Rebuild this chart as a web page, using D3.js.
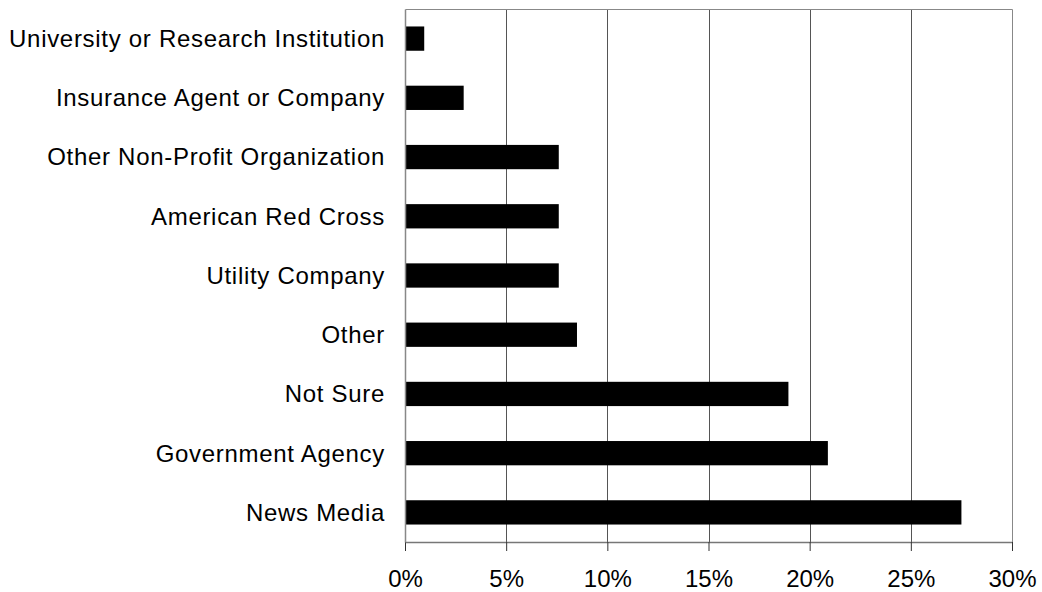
<!DOCTYPE html>
<html>
<head>
<meta charset="utf-8">
<script src="https://cdn.jsdelivr.net/npm/d3@7"></script>
<style>
  body { margin: 0; background: #fff; }
  svg { display: block; font-family: Arial, "Liberation Sans", sans-serif; }
</style>
</head>
<body>
<svg width="1042" height="592"></svg>
<script>
// data
const categories = [
  "University or Research Institution",
  "Insurance Agent or Company",
  "Other Non-Profit Organization",
  "American Red Cross",
  "Utility Company",
  "Other",
  "Not Sure",
  "Government Agency",
  "News Media"
];
const values = [0.95, 2.9, 7.6, 7.6, 7.6, 8.5, 18.95, 20.9, 27.5];
const ticks = [0, 5, 10, 15, 20, 25, 30];

const svg = d3.select("svg");
const margin = {top: 9, right: 30, bottom: 50, left: 405};
const width = 1012 - margin.left;
const height = 542 - margin.top;

const x = d3.scaleLinear().domain([0, 30]).range([0, width]);
const y = d3.scaleBand().domain(categories).range([0, height]).paddingInner(0.59).paddingOuter(0.295);

const g = svg.append("g")
  .attr("transform", "translate(" + margin.left + "," + margin.top + ")");

// gridlines
g.selectAll(".grid")
  .data(ticks.slice(1, -1))
  .enter().append("line")
    .attr("x1", d => Math.round(x(d)) + 0.5)
    .attr("x2", d => Math.round(x(d)) + 0.5)
    .attr("y1", 0)
    .attr("y2", height)
    .attr("stroke", "#555")
    .attr("stroke-width", 1);

// plot border (top, right)
g.append("path")
  .attr("d", "M0.5,0.5H" + (Math.round(width) + 0.5) + "V" + height)
  .attr("fill", "none")
  .attr("stroke", "#888");

// bars
g.selectAll(".bar")
  .data(values)
  .enter().append("rect")
    .attr("x", 0)
    .attr("y", (d, i) => y(categories[i]))
    .attr("width", d => x(d))
    .attr("height", y.bandwidth())
    .attr("fill", "#000");

// x axis
const xAxis = g.append("g")
  .attr("transform", "translate(0," + height + ")")
  .call(d3.axisBottom(x).tickValues(ticks).tickFormat(d => d + "%").tickSize(9).tickSizeOuter(0));
xAxis.select(".domain").attr("stroke", "#777").attr("stroke-width", 1.5);
xAxis.selectAll(".tick line").attr("stroke", "#333");
xAxis.selectAll(".tick text")
  .attr("font-size", "24px")
  .attr("fill", "#000")
  .attr("y", 28)
  .attr("dy", "0.71em")
  .attr("font-family", "Arial, 'Liberation Sans', sans-serif");

// y axis
const yAxis = g.append("g")
  .call(d3.axisLeft(y).tickSize(0).tickPadding(20));
yAxis.select(".domain").attr("stroke", "#888").attr("stroke-width", 1.5);
yAxis.selectAll(".tick text")
  .attr("font-size", "24px")
  .attr("letter-spacing", "0.7px")
  .attr("fill", "#000")
  .attr("dy", "0.35em")
  .attr("font-family", "Arial, 'Liberation Sans', sans-serif");
</script>
</body>
</html>
